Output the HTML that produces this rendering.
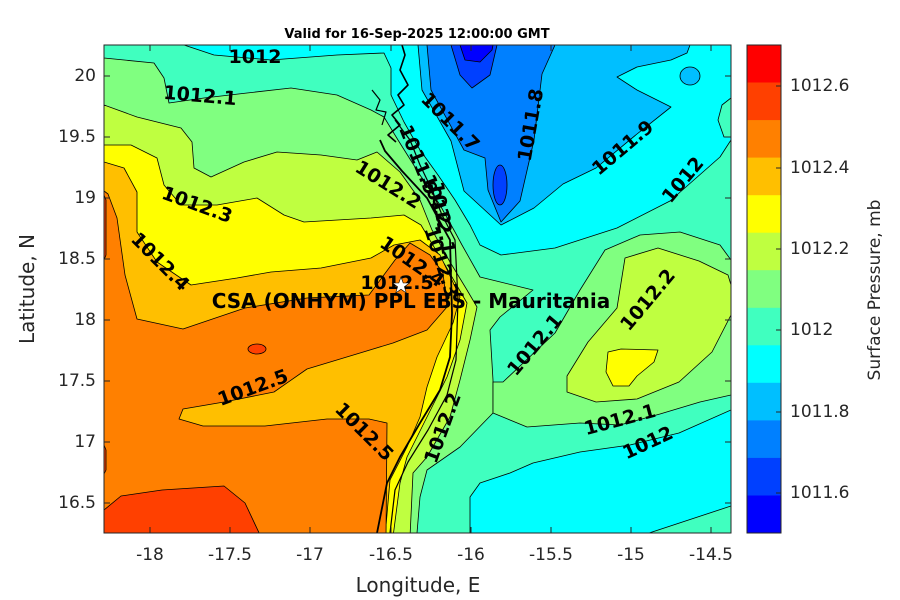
<!DOCTYPE html>
<html><head><meta charset="utf-8"><style>
html,body{margin:0;padding:0;background:#fff;}
svg{display:block;font-family:"DejaVu Sans","Liberation Sans",sans-serif;}
</style></head><body>
<svg width="900" height="600" viewBox="0 0 900 600" xmlns="http://www.w3.org/2000/svg">
<defs><clipPath id="c"><rect x="104" y="45" width="627" height="488"/></clipPath></defs>
<rect width="900" height="600" fill="#fff"/>
<g clip-path="url(#c)" stroke="#000" stroke-width="0.8" stroke-linejoin="round">
<rect x="104" y="45" width="627" height="488" fill="#40FFBF" stroke="none"/>
<polygon fill="#80FF80" points="104,58 154,63 164,78 169,103 204,98 247,93 291,88 337,95 371,110 384,117 398,140 420,175 440,205 455,232 462,245 480,277 533,290 500,317 490,330 493,380 493,413 460,447 427,470 420,497 417,533 104,537"/>
<polygon fill="#80FF80" points="503,382 555,333 580,290 605,250 640,235 680,232 720,245 731,260 731,395 700,402 660,414 620,425 580,423 527,427 493,413 493,382"/>
<polygon fill="#80FF80" points="724,100 731,98 731,137 724,135"/>
<polygon fill="#BFFF40" points="104,105 137,117 181,128 192,142 194,168 211,177 244,162 277,152 321,155 357,160 377,152 400,172 420,200 432,230 450,262 467,290 477,307 470,340 460,380 450,417 427,457 413,473 410,537 104,537"/>
<polygon fill="#BFFF40" points="567,376 588,342 617,308 625,258 658,248 699,261 728,275 731,285 731,315 712,352 679,382 637,399 596,402 567,392"/>
<polygon fill="#FFFF00" points="608,352 621,349 658,350 654,362 637,376 629,386 613,386 606,372"/>
<polygon fill="#FFFF00" points="104,145 131,145 157,158 164,185 181,205 217,205 257,198 284,215 304,222 371,218 404,215 421,225 431,242 445,265 467,303 460,340 447,377 427,417 407,457 400,483 393,537 104,537"/>
<polygon fill="#FFBF00" points="104,162 124,168 137,192 137,232 157,262 191,285 237,278 271,272 321,268 371,258 394,245 420,240 440,255 460,297 453,323 437,357 427,387 420,417 407,447 390,480 385,537 104,537"/>
<polygon fill="#FF8000" points="104,191 108,194 117,218 125,275 137,319 183,329 245,308 307,298 369,295 395,260 410,243 430,255 443,273 447,307 427,330 393,343 360,353 307,369 274,392 224,402 183,409 179,419 203,426 265,426 327,419 369,419 387,423 386,537 104,537"/>
<polygon fill="#FF4000" points="104,195 106,200 106,255 104,260"/>
<polygon fill="#FF4000" points="104,445 106,450 106,470 104,474"/>
<polygon fill="#FF4000" points="104,510 121,496 162,490 224,486 245,503 261,537 104,537"/>
<ellipse cx="257" cy="349" rx="9" ry="5" fill="#FF4000"/>
<polygon fill="#00FFFF" points="184,45 214,55 271,60 337,55 384,53 391,68 391,95 404,122 420,150 438,175 455,200 470,225 480,245 501,255 555,248 617,228 670,201 720,157 731,140 731,45"/>
<polygon fill="#40FFBF" points="731,98 722,105 718,120 724,137 731,137"/>
<polygon fill="#00FFFF" points="470,537 470,497 480,483 510,473 533,463 580,452 630,445 679,433 731,410 731,506 637,537"/>
<polygon fill="#00BFFF" points="418,45 422,90 451,141 464,191 501,225 534,208 563,184 596,168 637,134 671,107 637,90 617,77 637,67 671,60 687,53 690,45"/>
<ellipse cx="690" cy="76" rx="10" ry="9" fill="#00BFFF"/>
<polygon fill="#0080FF" points="427,45 431,90 464,150 485,158 488,190 501,222 520,201 534,140 542,74 555,45"/>
<polygon fill="#0040FF" points="451,45 460,75 472,88 490,75 497,45"/>
<ellipse cx="500" cy="185" rx="7" ry="20" fill="#0040FF"/>
<polygon fill="#0000FF" points="460,45 465,60 480,62 492,50 493,45"/>
<polyline fill="none" stroke-width="1.6" points="402,45 405,55 400,70 408,85 398,95 404,105 392,115 400,125 388,135 396,142"/>
<polyline fill="none" stroke-width="1.2" points="372,90 380,100 376,110 386,112 382,125"/>
<polyline fill="none" stroke-width="1.8" points="380,140 385,151 402,171 427,198 440,222 450,240 452,313 450,357 440,390 420,423 400,457 387,483 377,533"/>
<polyline fill="none" stroke-width="1.2" points="395,120 410,140 420,165 432,190 442,215 455,240 458,300 456,360 447,395 428,430 408,462 395,490 390,533"/>
</g>
<g font-weight="bold" font-size="19" fill="#000" text-anchor="middle" dominant-baseline="central">
<text x="255" y="57">1012</text>
<text x="200" y="96" transform="rotate(5 200 96)">1012.1</text>
<text x="197" y="205" transform="rotate(20 197 205)">1012.3</text>
<text x="160" y="262" transform="rotate(45 160 262)">1012.4</text>
<text x="388" y="185" transform="rotate(32 388 185)">1012.2</text>
<text x="450" y="122" transform="rotate(45 450 122)">1011.7</text>
<text x="531" y="125" transform="rotate(-80 531 125)">1011.8</text>
<text x="623" y="148" transform="rotate(-40 623 148)">1011.9</text>
<text x="683" y="180" transform="rotate(-50 683 180)">1012</text>
<text x="418" y="160" transform="rotate(68 418 160)">1011.9</text>
<text x="436" y="200" transform="rotate(70 436 200)">1012</text>
<text x="442" y="218" transform="rotate(80 442 218)">1012.1</text>
<text x="441" y="262" transform="rotate(72 441 262)">1012.3</text>
<text x="412" y="262" transform="rotate(35 412 262)">1012.4</text>
<text x="397" y="283">1012.5</text>
<text x="253" y="388" transform="rotate(-20 253 388)">1012.5</text>
<text x="364" y="432" transform="rotate(45 364 432)">1012.5</text>
<text x="443" y="428" transform="rotate(-70 443 428)">1012.2</text>
<text x="535" y="345" transform="rotate(-50 535 345)">1012.1</text>
<text x="648" y="300" transform="rotate(-50 648 300)">1012.2</text>
<text x="620" y="420" transform="rotate(-15 620 420)">1012.1</text>
<text x="648" y="443" transform="rotate(-25 648 443)">1012</text>
<text x="411" y="301" font-size="20">CSA (ONHYM) PPL EBS - Mauritania</text>
</g>
<polygon points="401,277 403.2,283 409.5,283 404.4,286.8 406.3,293 401,289.2 395.7,293 397.6,286.8 392.5,283 398.8,283" fill="#fff" stroke="#000" stroke-width="0.6"/>
<rect x="104" y="45" width="627" height="488" fill="none" stroke="#262626" stroke-width="1"/>
<g stroke="#262626" stroke-width="1">
<path d="M150,533v-6M230,533v-6M310,533v-6M391,533v-6M471,533v-6M551,533v-6M631,533v-6M711,533v-6M150,45v6M230,45v6M310,45v6M391,45v6M471,45v6M551,45v6M631,45v6M711,45v6"/>
<path d="M104,76h6M104,137h6M104,198h6M104,259h6M104,320h6M104,381h6M104,442h6M104,503h6M731,76h-6M731,137h-6M731,198h-6M731,259h-6M731,320h-6M731,381h-6M731,442h-6M731,503h-6"/>
</g>
<g font-size="17" fill="#262626" text-anchor="middle">
<text x="150" y="560">-18</text><text x="230" y="560">-17.5</text><text x="310" y="560">-17</text><text x="391" y="560">-16.5</text>
<text x="471" y="560">-16</text><text x="551" y="560">-15.5</text><text x="631" y="560">-15</text><text x="711" y="560">-14.5</text>
</g>
<g font-size="17" fill="#262626" text-anchor="end" dominant-baseline="central">
<text x="96" y="76">20</text><text x="96" y="137">19.5</text><text x="96" y="198">19</text><text x="96" y="259">18.5</text>
<text x="96" y="320">18</text><text x="96" y="381">17.5</text><text x="96" y="442">17</text><text x="96" y="503">16.5</text>
</g>
<text x="418" y="592" font-size="20" fill="#262626" text-anchor="middle">Longitude, E</text>
<text x="0" y="0" font-size="20" fill="#262626" text-anchor="middle" transform="translate(34 289) rotate(-90)">Latitude, N</text>
<text x="417" y="38" font-size="13" font-weight="bold" fill="#000" text-anchor="middle">Valid for 16-Sep-2025 12:00:00 GMT</text>
<g>
<rect x="747" y="45" width="34" height="38" fill="#FF0000"/>
<rect x="747" y="82.5" width="34" height="38" fill="#FF4000"/>
<rect x="747" y="120.1" width="34" height="38" fill="#FF8000"/>
<rect x="747" y="157.6" width="34" height="38" fill="#FFBF00"/>
<rect x="747" y="195.2" width="34" height="38" fill="#FFFF00"/>
<rect x="747" y="232.7" width="34" height="38" fill="#BFFF40"/>
<rect x="747" y="270.2" width="34" height="38" fill="#80FF80"/>
<rect x="747" y="307.8" width="34" height="38" fill="#40FFBF"/>
<rect x="747" y="345.3" width="34" height="38" fill="#00FFFF"/>
<rect x="747" y="382.8" width="34" height="38" fill="#00BFFF"/>
<rect x="747" y="420.4" width="34" height="38" fill="#0080FF"/>
<rect x="747" y="457.9" width="34" height="38" fill="#0040FF"/>
<rect x="747" y="495.5" width="34" height="37.5" fill="#0000FF"/>
</g>
<rect x="747" y="45" width="34" height="488" fill="none" stroke="#262626" stroke-width="1"/>
<g stroke="#262626"><path d="M781,86h-5M781,168h-5M781,249h-5M781,330h-5M781,412h-5M781,493h-5"/></g>
<g font-size="17" fill="#262626" dominant-baseline="central">
<text x="790" y="86">1012.6</text><text x="790" y="168">1012.4</text><text x="790" y="249">1012.2</text>
<text x="790" y="330">1012</text><text x="790" y="412">1011.8</text><text x="790" y="493">1011.6</text>
</g>
<text x="0" y="0" font-size="17" fill="#262626" text-anchor="middle" transform="translate(880 290) rotate(-90)">Surface Pressure, mb</text>
</svg>
</body></html>
